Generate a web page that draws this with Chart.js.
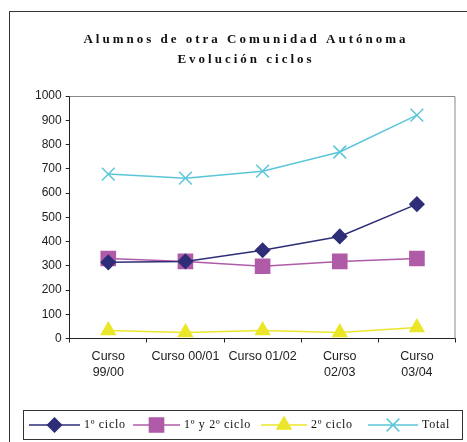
<!DOCTYPE html>
<html>
<head>
<meta charset="utf-8">
<script src="https://cdn.jsdelivr.net/npm/chart.js@4.4.1/dist/chart.umd.min.js"></script>
<style>
  html, body { margin: 0; padding: 0; background: #fff; }
  #wrap { width: 467px; height: 442px; position: relative; }
</style>
</head>
<body>
<div id="wrap"><canvas id="ciclosChart" width="467" height="442"></canvas></div>
<script>
var cursos = [['Curso', '99/00'], 'Curso 00/01', 'Curso 01/02', ['Curso', '02/03'], ['Curso', '03/04']];
var primerCiclo = [314, 318, 364, 421, 554];
var primerSegundo = [330, 318, 298, 318, 330];
var segundoCiclo = [33, 25, 33, 25, 45];
var total = [678, 661, 690, 769, 921];
var yTicks = { min: 0, max: 1000, step: 100 };
var titulo = ['Alumnos de otra Comunidad Autónoma', 'Evolución ciclos'];

// marco exterior, borde del area de trazado, titulo y leyenda
var decor = {
    id: 'decor',
    beforeDraw: function (chart) {
        var ctx = chart.ctx;
        ctx.save();
        ctx.strokeStyle = '#333';
        ctx.lineWidth = 1;
        ctx.strokeRect(9.5, 11.5, 470, 440);
        ctx.restore();
    },
    afterDraw: function (chart) {
        var ctx = chart.ctx;
        var a = chart.chartArea;
        ctx.save();
        ctx.strokeStyle = '#888';
        ctx.beginPath();
        ctx.moveTo(a.left, a.top + 0.5);
        ctx.lineTo(a.right - 0.5, a.top + 0.5);
        ctx.lineTo(a.right - 0.5, a.bottom);
        ctx.stroke();

        // titulo
        ctx.fillStyle = '#111';
        ctx.font = 'bold 13px "Liberation Serif"';
        ctx.letterSpacing = '3px';
        ctx.textAlign = 'center';
        ctx.textBaseline = 'middle';
        ctx.fillText(titulo[0], 246, 40);
        ctx.fillText(titulo[1], 246, 60);

        // leyenda
        ctx.strokeStyle = '#333';
        ctx.lineWidth = 1;
        ctx.strokeRect(23.5, 410.5, 439, 29);
        ctx.font = '12px "Liberation Serif"';
        ctx.letterSpacing = '0.7px';
        ctx.textAlign = 'left';
        var xs = [29, 133, 261, 368];
        var lens = [51, 47, 46, 50];
        var y = 425;
        chart.data.datasets.forEach(function (ds, i) {
            var x0 = xs[i];
            ctx.strokeStyle = ds.borderColor;
            ctx.fillStyle = ds.backgroundColor;
            ctx.lineWidth = 1.5;
            ctx.beginPath();
            ctx.moveTo(x0, y);
            ctx.lineTo(x0 + lens[i], y);
            ctx.stroke();
            Chart.helpers.drawPoint(ctx, {
                pointStyle: ds.pointStyle,
                radius: ds.pointRadius,
                borderWidth: ds.pointBorderWidth || 1
            }, x0 + lens[i] / 2, y);
            ctx.fillStyle = '#111';
            ctx.fillText(ds.label, x0 + lens[i] + 4, y);
        });
        ctx.restore();
    }
};

var ctx = document.getElementById('ciclosChart');
var myChart = new Chart(ctx, {
    type: 'line',
    data: {
        labels: cursos,
        datasets: [
            {
                data: primerCiclo,
                label: '1º ciclo',
                borderColor: '#2e2e78',
                backgroundColor: '#2e2e78',
                pointStyle: 'rectRot',
                pointRadius: 7,
                borderWidth: 1.5,
                fill: false
            },
            {
                data: primerSegundo,
                label: '1º y 2º ciclo',
                borderColor: '#b05ba8',
                backgroundColor: '#b05ba8',
                pointStyle: 'rect',
                pointRadius: 10,
                borderWidth: 1.5,
                fill: false
            },
            {
                data: segundoCiclo,
                label: '2º ciclo',
                borderColor: '#ece62a',
                backgroundColor: '#ece62a',
                pointStyle: 'triangle',
                pointRadius: 8,
                borderWidth: 1.5,
                fill: false
            },
            {
                data: total,
                label: 'Total',
                borderColor: '#5bc6da',
                backgroundColor: '#5bc6da',
                pointStyle: 'crossRot',
                pointRadius: 9,
                pointBorderWidth: 1.5,
                borderWidth: 1.5,
                fill: false
            }
        ]
    },
    options: {
        responsive: false,
        animation: false,
        layout: { padding: { top: 96, right: 9, bottom: 55, left: 31 } },
        plugins: {
            legend: { display: false },
            title: { display: false },
            tooltip: { enabled: false }
        },
        elements: { line: { tension: 0 } },
        scales: {
            x: {
                offset: true,
                grid: { offset: true, drawOnChartArea: false, drawTicks: true, tickLength: 4, color: '#222' },
                border: { color: '#222', width: 1 },
                ticks: {
                    color: '#222',
                    font: { family: '"Liberation Sans", Arial', size: 12.5, lineHeight: 1.3 },
                    maxRotation: 0,
                    autoSkip: false,
                    padding: 6
                }
            },
            y: {
                min: yTicks.min,
                max: yTicks.max,
                grid: { drawOnChartArea: false, drawTicks: true, tickLength: 4, color: '#222' },
                border: { color: '#222', width: 1 },
                ticks: {
                    stepSize: yTicks.step,
                    color: '#222',
                    font: { family: '"Liberation Sans", Arial', size: 12 },
                    padding: 4,
                    callback: function (v) { return String(v); }
                }
            }
        }
    },
    plugins: [decor]
});
</script>
</body>
</html>
